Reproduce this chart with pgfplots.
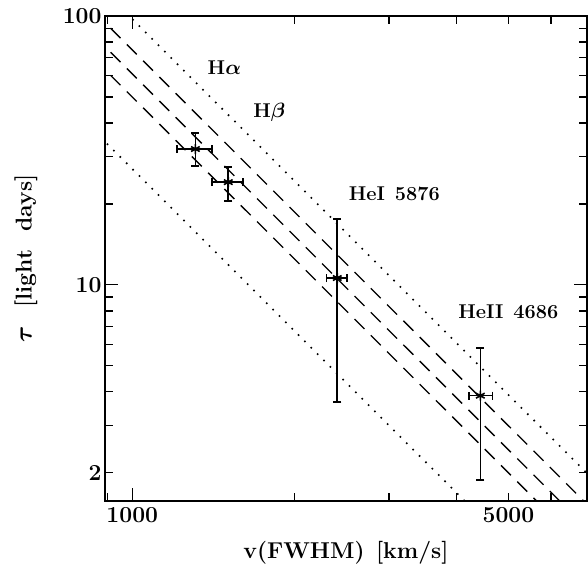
\documentclass[border=0pt]{standalone}
\usepackage{fontspec}
\usepackage{pgfplots}
\pgfplotsset{compat=1.18}
\pgfplotstableread{
x y xp xm yp ym
1310 32.0 98 98 4.7 4.3
1508 24.1 100 100 3.4 3.6
2404 10.6 105 110 7.0 6.93
4434 3.87 236 205 1.96 1.99
}\pts
\newcommand{\lab}{\fontsize{23}{25}\selectfont\bfseries\boldmath}
\newcommand{\ann}{\fontsize{20}{22}\selectfont\bfseries\boldmath}
\begin{document}
\begin{tikzpicture}
\begin{axis}[
  xmode=log, ymode=log,
  scale only axis, width=482bp, height=485bp,
  xmin=890, xmax=7000, ymin=1.57, ymax=100,
  xtick={1000}, xticklabels={1000},
  extra x ticks={5000}, extra x tick labels={5000},
  extra x tick style={major tick length=8bp},
  minor xtick={900,2000,3000,4000,6000,7000},
  ytick={10,100}, yticklabels={10,100},
  extra y ticks={2}, extra y tick labels={2},
  extra y tick style={major tick length=8bp},
  minor ytick={3,4,5,6,7,8,9,20,30,40,50,60,70,80,90},
  major tick length=13bp, minor tick length=8bp,
  every tick/.style={line width=1.3bp, black},
  axis line style={line width=1.6bp},
  tick label style={font=\lab},
  xticklabel style={yshift=-3bp},
  xlabel={v(FWHM)\hspace{0.5em}[km/s]},
  ylabel={$\tau$\hspace{0.8em}[light\hspace{0.8em}days]},
  label style={font=\lab},
  xlabel style={at={(axis description cs:0.5,-0.107)}, anchor=center},
  ylabel style={at={(axis description cs:-0.164,0.5)}, anchor=center},
  clip=true,
]
\addplot[black, line width=1.6bp, dash pattern=on 1.6bp off 7.4bp] coordinates {(850,134.95) (7500,1.7333)};
\addplot[black, line width=1.6bp, dash pattern=on 1.6bp off 7.4bp] coordinates {(850,37.37) (7500,0.48)};
\addplot[black, line width=1.3bp, dash pattern=on 14bp off 9bp] coordinates {(850,103.53) (7500,1.3298)};
\addplot[black, line width=1.3bp, dash pattern=on 14bp off 9bp] coordinates {(850,84.29) (7500,1.0827)};
\addplot[black, line width=1.3bp, dash pattern=on 14bp off 9bp] coordinates {(850,69.20) (7500,0.8889)};
\addplot[black, line width=1.6bp, mark=asterisk, mark size=5bp, only marks,
  error bars/.cd, x dir=both, x explicit, y dir=both, y explicit,
  error bar style={line width=1.6bp, black},
  error mark options={rotate=90, mark size=4bp, line width=1.6bp}]
  table[x=x, y=y, x error plus=xp, x error minus=xm, y error plus=yp, y error minus=ym] {\pts};
\node[font=\ann] at (axis cs:1483,64.1) {H$\alpha$};
\node[font=\ann] at (axis cs:1798,44.0) {H$\beta$};
\node[font=\ann] at (axis cs:3069,21.8) {HeI\hspace{0.5em}5876};
\node[font=\ann] at (axis cs:5000,7.94) {HeII\hspace{0.5em}4686};
\coordinate (A) at (rel axis cs:0,0);
\coordinate (B) at (rel axis cs:1,1);
\end{axis}
\pgfresetboundingbox
\path[use as bounding box] ([shift={(-105bp,-67bp)}]A) rectangle ([shift={(1bp,16bp)}]B);
\end{tikzpicture}
\end{document}
